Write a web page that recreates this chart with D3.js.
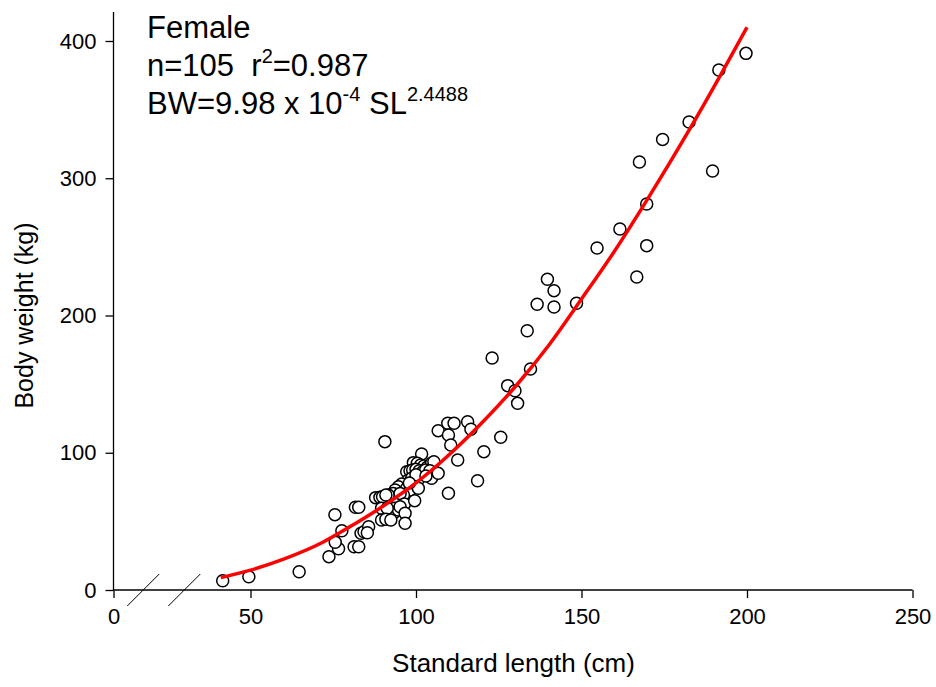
<!DOCTYPE html>
<html>
<head>
<meta charset="utf-8">
<script src="https://cdn.jsdelivr.net/npm/d3@7"></script>
<style>
  body { margin: 0; background: #fff; }
  svg { display: block; font-family: "Liberation Sans", Arial, sans-serif; }
</style>
</head>
<body>
<svg id="chart" width="936" height="687"></svg>
<script>
// standard length (cm) of each female
var sl = [41.6, 49.5, 64.7, 73.7, 76.6, 75.6, 75.5, 77.6, 81.3, 82.7,
	81.7, 82.7, 83.4, 84.3, 85.7, 85.3, 90.6, 106.7, 109.6, 111.5,
	109.8, 110.5, 109.8, 112.6, 115.6, 116.6, 118.6, 120.5, 125.6, 127.7,
	129.9, 130.7,
	101.7, 99.2, 100.4, 101.4, 102.4, 103.4, 104.7, 105.4, 97.2, 98.2,
	99.0, 100.0, 101.0, 102.0, 102.9, 104.2, 104.7, 106.7, 97.7, 98.7,
	99.7, 100.7, 95.7, 94.7, 93.7, 97.2, 98.2, 100.7, 96.2, 93.1,
	92.1, 91.6, 94.5, 95.2, 96.5, 99.6, 87.8, 89.1, 89.9, 90.9,
	93.5, 93.2, 94.7, 95.2, 89.6, 91.3, 89.6, 90.9, 92.4, 96.7,
	96.7, 100.0, 98.0, 103.0,
	167.5, 189.6, 169.7, 161.6, 169.7, 154.7, 166.7, 139.7, 141.7, 136.6,
	141.7, 148.5, 133.6, 123.0, 134.6, 199.7, 191.5, 182.5, 174.5];

// body weight (kg), same order
var bw = [6.8, 9.7, 13.3, 24.3, 30.1, 34.8, 54.9, 43.2, 31.5, 31.5,
	60.3, 60.3, 41.3, 42.5, 46.1, 41.7, 108.1, 116.1, 121.5, 121.5,
	112.9, 105.6, 70.5, 94.7, 122.6, 117.1, 79.6, 100.8, 111.3, 148.9,
	145.2, 136.0,
	99.1, 92.8, 92.3, 91.1, 90.3, 89.4, 92.3, 93.5, 86.2, 86.9,
	87.4, 87.9, 86.9, 86.2, 87.4, 86.9, 81.4, 85.0, 80.1, 81.4,
	80.1, 80.6, 77.2, 75.3, 72.9, 74.1, 72.9, 74.1, 69.2, 70.4,
	65.6, 69.2, 63.1, 70.4, 62.7, 65.1, 67.3, 67.5, 68.0, 69.2,
	59.5, 55.9, 58.3, 60.7, 59.5, 59.5, 51.0, 51.5, 51.0, 55.9,
	48.6, 84.0, 78.0, 83.0,
	311.8, 305.3, 281.2, 263.0, 250.9, 249.2, 228.1, 226.4, 218.1, 208.2,
	206.2, 208.9, 188.9, 169.0, 161.0, 391.0, 378.9, 341.0, 328.3];

// fitted curve
var fitSL = [41, 50, 60, 72, 80, 90, 100, 110, 120, 131, 140, 150, 160, 170, 182.5, 191.5, 200];
var fitBW = [9, 14.5, 22.5, 35, 46, 61, 78, 98.5, 122, 151, 178, 212, 247, 285, 335, 373, 410];

var xTicks = [0, 50, 100, 150, 200, 250];
var yTicks = [0, 100, 200, 300, 400];
var breakMarks = [12.6, 30];

var svg = d3.select('#chart');

// broken x axis: 0..30 squeezed, 30..250 linear
var x = d3.scaleLinear().domain([0, 30, 250]).range([113.5, 184.3, 912.5]);
var y = d3.scaleLinear().domain([0, 400]).range([590, 41]);

var xAxis = svg.append('g')
	.attr('transform', 'translate(0,' + y(0) + ')')
	.call(d3.axisBottom(x).tickValues(xTicks).tickSize(8).tickPadding(10).tickSizeOuter(0));

var yAxis = svg.append('g')
	.attr('transform', 'translate(' + x(0) + ',0)')
	.call(d3.axisLeft(y).tickValues(yTicks).tickSize(8).tickPadding(9).tickSizeOuter(0));

// y axis runs a little above 400
yAxis.select('.domain').attr('d', 'M0,' + y(0) + 'V12');
xAxis.select('.domain').attr('d', 'M' + x(0) + ',0H' + x(250));

[xAxis, yAxis].forEach(function(ax) {
	ax.selectAll('.domain, .tick line').attr('stroke', '#000').attr('stroke-width', 1.3);
	ax.selectAll('.tick text').attr('font-size', 22).attr('fill', '#000')
		.attr('font-family', '"Liberation Sans", Arial, sans-serif');
});

// axis break slashes
svg.append('g').selectAll('line').data(breakMarks).enter().append('line')
	.attr('x1', function(d) { return x(d) - 16; })
	.attr('y1', y(0) + 16)
	.attr('x2', function(d) { return x(d) + 16; })
	.attr('y2', y(0) - 16)
	.attr('stroke', '#000').attr('stroke-width', 1);

// points
var pts = sl.map(function(d, i) { return {sl: d, bw: bw[i]}; });
svg.append('g').selectAll('circle').data(pts).enter().append('circle')
	.attr('cx', function(d) { return x(d.sl); })
	.attr('cy', function(d) { return y(d.bw); })
	.attr('r', 6)
	.attr('fill', '#fff')
	.attr('stroke', '#000')
	.attr('stroke-width', 1.5);

// fitted curve on top
var fit = fitSL.map(function(d, i) { return [d, fitBW[i]]; });
svg.append('path')
	.datum(fit)
	.attr('fill', 'none')
	.attr('stroke', '#ff0000')
	.attr('stroke-width', 3.5)
	.attr('d', d3.line()
		.x(function(d) { return x(d[0]); })
		.y(function(d) { return y(d[1]); })
		.curve(d3.curveMonotoneX));

// axis titles
svg.append('text')
	.attr('x', (x(50) + x(250)) / 2 - 68)
	.attr('y', 672)
	.attr('text-anchor', 'middle')
	.attr('font-size', 26)
	.text('Standard length (cm)');

svg.append('text')
	.attr('transform', 'translate(33,' + y(200) + ') rotate(-90)')
	.attr('text-anchor', 'middle')
	.attr('font-size', 25)
	.text('Body weight (kg)');

// annotation
var note = svg.append('g').attr('font-size', 31);
note.append('text').attr('x', 147).attr('y', 37.5).text('Female');

var l2 = note.append('text').attr('x', 147).attr('y', 76);
l2.append('tspan').text('n=105\u00a0\u00a0r');
l2.append('tspan').attr('font-size', 20).attr('dy', -13).text('2');
l2.append('tspan').attr('dy', 13).text('=0.987');

var l3 = note.append('text').attr('x', 147).attr('y', 113.5);
l3.append('tspan').text('BW=9.98 x 10');
l3.append('tspan').attr('font-size', 20).attr('dy', -13).text('-4');
l3.append('tspan').attr('dy', 13).text(' SL');
l3.append('tspan').attr('font-size', 20).attr('dy', -13).text('2.4488');
</script>
</body>
</html>
